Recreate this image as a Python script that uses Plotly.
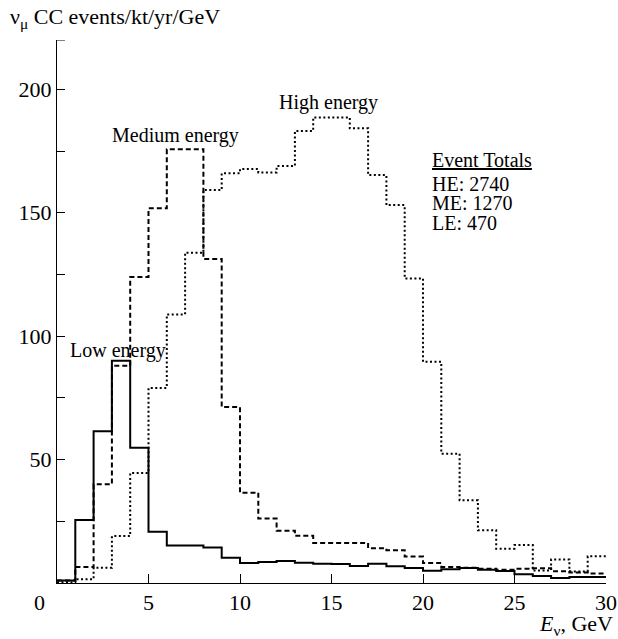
import plotly.graph_objects as go

# Energy bins (GeV): lower edges of the 1-GeV bins, plus the upper edge of the last one
bin_edges = list(range(0, 31))

# nu_mu CC events / kt / yr / GeV per bin
low_energy = [1.0, 25.5, 61.5, 90.0, 54.8, 20.8, 15.2, 15.2, 14.4, 10.2,
              8.1, 8.5, 8.9, 8.2, 7.8, 7.7, 6.9, 7.8, 6.8, 6.1,
              5.0, 5.6, 6.1, 5.4, 4.9, 3.5, 2.8, 2.0, 2.4, 2.4]
medium_energy = [1.0, 6.5, 40.0, 88.0, 124.0, 151.8, 175.7, 175.7, 131.3, 71.3,
                 36.6, 26.1, 21.2, 19.1, 16.2, 16.2, 16.2, 14.1, 13.3, 10.7,
                 8.1, 6.5, 6.2, 5.8, 5.4, 5.8, 6.0, 4.8, 4.3, 3.8]
high_energy = [0.3, 1.5, 6.2, 19.0, 44.6, 79.0, 108.8, 133.8, 159.2, 166.0,
               167.7, 166.3, 168.9, 183.1, 188.6, 188.6, 184.2, 165.3, 153.1, 123.4,
               89.6, 52.4, 33.5, 21.4, 13.9, 15.4, 5.1, 9.5, 4.7, 10.8]

x_ticks = [5, 10, 15, 20, 25, 30]
y_ticks = [50, 100, 150, 200]

totals_title = "Event Totals"
totals_lines = ["HE: 2740", "ME: 1270", "LE: 470"]

FONT = "Liberation Serif, Times New Roman, serif"

fig = go.Figure()

def add_hist(values, dash, name):
    xs = bin_edges
    ys = values + [values[-1]]
    fig.add_trace(go.Scatter(
        x=xs, y=ys, mode="lines", name=name,
        line=dict(shape="hv", color="black", width=2, dash=dash),
        hoverinfo="skip",
    ))

add_hist(high_energy, "2px,2.5px", "High energy")
add_hist(medium_energy, "5px,3px", "Medium energy")
add_hist(low_energy, "solid", "Low energy")

ann_font = dict(family=FONT, size=20, color="black")

# Beam labels
fig.add_annotation(x=14.84, y=194.6, text="High energy", showarrow=False,
                   font=ann_font, xanchor="center", yanchor="middle")
fig.add_annotation(x=6.45, y=181.5, text="Medium energy", showarrow=False,
                   font=ann_font, xanchor="center", yanchor="middle")
fig.add_annotation(x=3.31, y=94.3, text="Low energy", showarrow=False,
                   font=ann_font, xanchor="center", yanchor="middle")

# Event totals box
fig.add_annotation(x=20.38, y=171.2, text="<u>" + totals_title + "</u>", showarrow=False,
                   font=ann_font, xanchor="left", yanchor="middle")
for txt, yv in zip(totals_lines, [161.6, 153.9, 145.8]):
    fig.add_annotation(x=20.38, y=yv, text=txt, showarrow=False,
                       font=ann_font, xanchor="left", yanchor="middle")

axis_font = dict(family=FONT, size=22, color="black")

# Axis titles
fig.add_annotation(xref="paper", yref="paper", x=-0.0893, y=1.04,
                   text="ν<sub>μ</sub> CC events/kt/yr/GeV", showarrow=False,
                   font=axis_font, xanchor="left", yanchor="middle")
fig.add_annotation(xref="paper", yref="paper", x=1.016, y=-0.078,
                   text="<i>E</i><sub>ν</sub>, GeV", showarrow=False,
                   font=axis_font, xanchor="right", yanchor="middle")
# Origin label
fig.add_annotation(xref="x", yref="paper", x=0, y=0, xshift=-18, yshift=-19,
                   text="0", showarrow=False, font=axis_font,
                   xanchor="center", yanchor="middle")

# Tick at the top end of the y axis
fig.add_shape(type="line", xref="paper", yref="y", x0=0, x1=8 / 549,
              y0=220, y1=220, line=dict(color="black", width=1))

fig.update_xaxes(
    range=[0, 30], showgrid=False, zeroline=False, automargin=False,
    showline=True, linecolor="black", linewidth=1,
    ticks="inside", ticklen=9, tickwidth=1, tickcolor="black",
    tickvals=x_ticks, tickfont=axis_font,
)
fig.update_yaxes(
    range=[0, 220], showgrid=False, zeroline=False, automargin=False,
    showline=True, linecolor="black", linewidth=1,
    ticks="inside", ticklen=8, tickwidth=1, tickcolor="black",
    tickvals=y_ticks, tickfont=axis_font,
    minor=dict(tick0=0, dtick=25, ticks="inside", ticklen=8,
               tickwidth=1, tickcolor="black", showgrid=False),
)

fig.update_layout(
    width=618, height=639,
    margin=dict(l=57, r=12, t=40, b=56, pad=0),
    paper_bgcolor="white", plot_bgcolor="white",
    showlegend=False,
    font=dict(family=FONT, color="black"),
)

fig.write_html("out.html")
